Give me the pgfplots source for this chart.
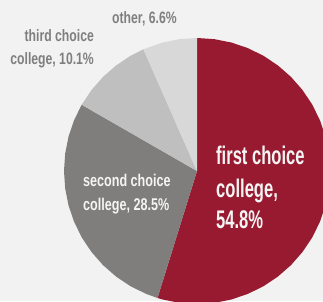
\documentclass[border=0pt]{standalone}
\usepackage{pgfplots}
\pgfplotsset{compat=1.18}
\usepackage{fontspec}
\setmainfont{Liberation Sans}
\newfontfamily\bigf{Liberation Sans}[FakeStretch=0.65]
\newfontfamily\smallf{Liberation Sans}[FakeStretch=0.74]
\definecolor{bg}{HTML}{F2F2F2}
\definecolor{cfirst}{HTML}{981A30}
\definecolor{csecond}{HTML}{7F7E7C}
\definecolor{cthird}{HTML}{BFBFBF}
\definecolor{cother}{HTML}{D9D8D9}
\definecolor{lbl}{HTML}{7F7F7F}
\definecolor{inlbl}{HTML}{F4F4F4}
\pagecolor{bg}
\begin{document}
\begin{tikzpicture}
\begin{axis}[width=323pt,height=301pt,scale only axis,
  xmin=-1.4812,xmax=0.9474,ymin=-0.9774,ymax=1.2857,
  hide axis,clip=true]
% first choice college 54.8% : 90 -> -107.28
\addplot[data cs=polar,fill=cfirst,draw=none] coordinates {
(0,0) (90,1) (82.5,1) (75,1) (67.5,1) (60,1) (52.5,1) (45,1) (37.5,1) (30,1)
(22.5,1) (15,1) (7.5,1) (0,1) (-7.5,1) (-15,1) (-22.5,1) (-30,1) (-37.5,1)
(-45,1) (-52.5,1) (-60,1) (-67.5,1) (-75,1) (-82.5,1) (-90,1) (-97.5,1)
(-105,1) (-107.28,1)} -- cycle;
% second choice college 28.5% : 252.72 -> 150.12
\addplot[data cs=polar,fill=csecond,draw=none] coordinates {
(0,0) (252.72,1) (247.5,1) (240,1) (232.5,1) (225,1) (217.5,1) (210,1)
(202.5,1) (195,1) (187.5,1) (180,1) (172.5,1) (165,1) (157.5,1) (150.12,1)} -- cycle;
% third choice college 10.1% : 150.12 -> 113.76
\addplot[data cs=polar,fill=cthird,draw=none] coordinates {
(0,0) (150.12,1) (142.5,1) (135,1) (127.5,1) (120,1) (113.76,1)} -- cycle;
% other 6.6% : 113.76 -> 90
\addplot[data cs=polar,fill=cother,draw=none] coordinates {
(0,0) (113.76,1) (105,1) (97.5,1) (90,1)} -- cycle;

\begin{scope}[every node/.style={inner sep=0pt}]
\node[anchor=base west,text=inlbl,font=\bigf\bfseries\fontsize{25.5}{26}\selectfont] at (axis cs:0.1429,0.0503) {first choice};
\node[anchor=base west,text=inlbl,font=\bigf\bfseries\fontsize{25.5}{26}\selectfont] at (axis cs:0.1429,-0.1955) {college,};
\node[anchor=base west,text=inlbl,font=\bigf\bfseries\fontsize{25.5}{26}\selectfont] at (axis cs:0.1429,-0.4323) {54.8\%};
\node[anchor=base west,text=inlbl,font=\smallf\bfseries\fontsize{17}{18}\selectfont] at (axis cs:-0.857,-0.118) {second choice};
\node[anchor=base west,text=inlbl,font=\smallf\bfseries\fontsize{17}{18}\selectfont] at (axis cs:-0.857,-0.298) {college, 28.5\%};
\node[anchor=base west,text=lbl,font=\smallf\bfseries\fontsize{16.5}{17}\selectfont] at (axis cs:-0.639,1.1105) {other, 6.6\%};
\node[anchor=base east,text=lbl,font=\smallf\bfseries\fontsize{16.5}{17}\selectfont] at (axis cs:-0.774,0.972) {third choice};
\node[anchor=base east,text=lbl,font=\smallf\bfseries\fontsize{16.5}{17}\selectfont] at (axis cs:-0.774,0.802) {college, 10.1\%};
\end{scope}
\end{axis}
\pgfresetboundingbox
\path[use as bounding box] (current axis.south west) rectangle (current axis.north east);
\end{tikzpicture}
\end{document}
